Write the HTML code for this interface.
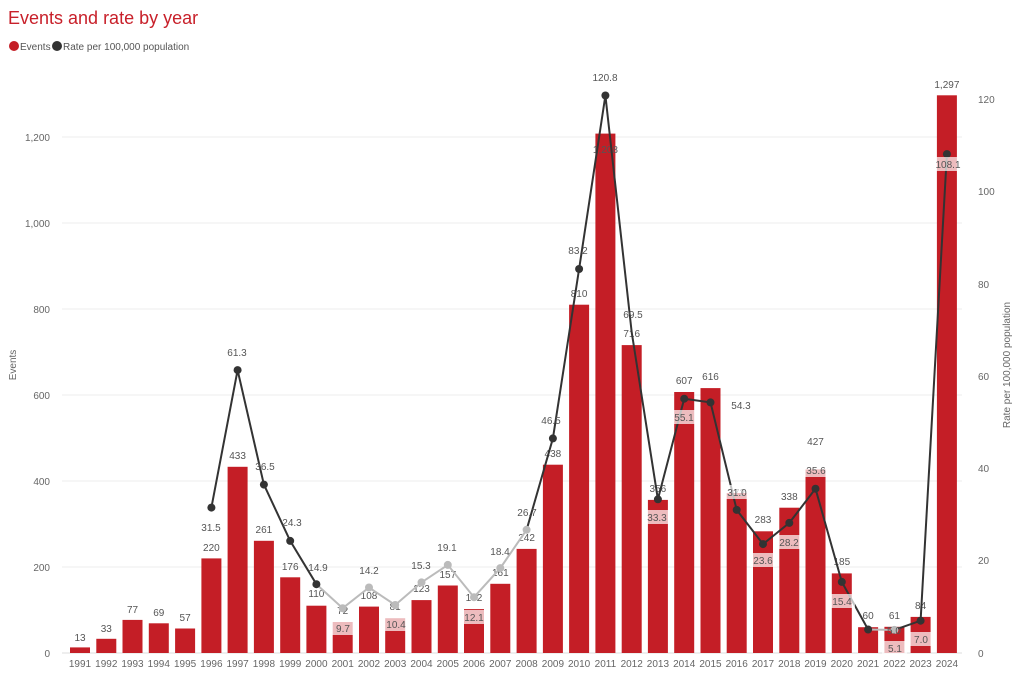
<!DOCTYPE html>
<html><head><meta charset="utf-8"><style>
body{margin:0;background:#fff;width:1024px;height:684px;overflow:hidden}
svg{font-family:"Liberation Sans",sans-serif}
.t{font-size:10px;fill:#666}
.e{font-size:10px;fill:#555;text-anchor:middle}
.r{font-size:10px;fill:#555;text-anchor:middle}
.g{stroke:#ececec;stroke-width:1}
</style></head><body>
<svg width="1024" height="684" viewBox="0 0 1024 684">
<text x="8" y="24" font-size="18" fill="#c8202a">Events and rate by year</text>
<circle cx="14" cy="46" r="5" fill="#c41e26"/><text x="20" y="50" font-size="10" fill="#555">Events</text>
<circle cx="57" cy="46" r="5" fill="#333"/><text x="63" y="50" font-size="10" fill="#555">Rate per 100,000 population</text>
<g class="g">
<line x1="62" x2="962" y1="567" y2="567"/><line x1="62" x2="962" y1="481" y2="481"/><line x1="62" x2="962" y1="395" y2="395"/><line x1="62" x2="962" y1="309" y2="309"/><line x1="62" x2="962" y1="223" y2="223"/><line x1="62" x2="962" y1="137" y2="137"/>
<line x1="62" x2="962" y1="653" y2="653" stroke="#ddd"/>
</g>
<g class="t" text-anchor="end">
<text x="50" y="657">0</text><text x="50" y="571">200</text><text x="50" y="485">400</text><text x="50" y="399">600</text><text x="50" y="313">800</text><text x="50" y="227">1,000</text><text x="50" y="141">1,200</text>
</g>
<g class="t">
<text x="978" y="657">0</text><text x="978" y="564">20</text><text x="978" y="472">40</text><text x="978" y="380">60</text><text x="978" y="288">80</text><text x="978" y="195">100</text><text x="978" y="103">120</text>
</g>
<text class="t" transform="translate(16,365) rotate(-90)" text-anchor="middle">Events</text>
<text class="t" transform="translate(1010,365) rotate(-90)" text-anchor="middle">Rate per 100,000 population</text>
<g fill="#c41e26">
<rect x="70" y="647.4" width="20" height="5.6"/>
<rect x="96.3" y="638.8" width="20" height="14.2"/>
<rect x="122.5" y="619.9" width="20" height="33.1"/>
<rect x="148.8" y="623.3" width="20" height="29.7"/>
<rect x="175.1" y="628.5" width="20" height="24.5"/>
<rect x="201.4" y="558.4" width="20" height="94.6"/>
<rect x="227.6" y="466.8" width="20" height="186.2"/>
<rect x="253.9" y="540.8" width="20" height="112.2"/>
<rect x="280.2" y="577.3" width="20" height="75.7"/>
<rect x="306.4" y="605.7" width="20" height="47.3"/>
<rect x="332.7" y="622" width="20" height="31"/>
<rect x="359" y="606.6" width="20" height="46.4"/>
<rect x="385.2" y="618.2" width="20" height="34.8"/>
<rect x="411.5" y="600.1" width="20" height="52.9"/>
<rect x="437.8" y="585.5" width="20" height="67.5"/>
<rect x="464" y="609.1" width="20" height="43.9"/>
<rect x="490.3" y="583.8" width="20" height="69.2"/>
<rect x="516.6" y="548.9" width="20" height="104.1"/>
<rect x="542.9" y="464.7" width="20" height="188.3"/>
<rect x="569.1" y="304.7" width="20" height="348.3"/>
<rect x="595.4" y="133.6" width="20" height="519.4"/>
<rect x="621.7" y="345.1" width="20" height="307.9"/>
<rect x="647.9" y="499.9" width="20" height="153.1"/>
<rect x="674.2" y="392" width="20" height="261"/>
<rect x="700.5" y="388.1" width="20" height="264.9"/>
<rect x="726.7" y="493" width="20" height="160"/>
<rect x="753" y="531.3" width="20" height="121.7"/>
<rect x="779.3" y="507.7" width="20" height="145.3"/>
<rect x="805.5" y="469.4" width="20" height="183.6"/>
<rect x="831.8" y="573.4" width="20" height="79.6"/>
<rect x="858.1" y="627.2" width="20" height="25.8"/>
<rect x="884.4" y="626.8" width="20" height="26.2"/>
<rect x="910.6" y="616.9" width="20" height="36.1"/>
<rect x="936.9" y="95.3" width="20" height="557.7"/>
</g>
<g class="e">
<text x="80" y="641">13</text><text x="106.3" y="632">33</text><text x="132.5" y="613">77</text><text x="158.8" y="616">69</text><text x="185.1" y="621">57</text><text x="211.4" y="551">220</text><text x="237.6" y="459">433</text><text x="263.9" y="533">261</text><text x="290.2" y="570">176</text><text x="316.4" y="597">110</text><text x="342.7" y="614">72</text><text x="369" y="599">108</text><text x="395.2" y="610">81</text><text x="421.5" y="592">123</text><text x="447.8" y="578">157</text><text x="474" y="601">102</text><text x="500.3" y="576">161</text><text x="526.6" y="541">242</text><text x="552.9" y="457">438</text><text x="579.1" y="297">810</text><text x="605.4" y="153">1,208</text><text x="631.7" y="337">716</text><text x="657.9" y="492">356</text><text x="684.2" y="384">607</text><text x="710.5" y="380">616</text><text x="736.7" y="496">372</text><text x="763" y="523">283</text><text x="789.3" y="500">338</text><text x="815.5" y="445">427</text><text x="841.8" y="565">185</text><text x="868.1" y="619">60</text><text x="894.4" y="619">61</text><text x="920.6" y="609">84</text><text x="946.9" y="88">1,297</text>
</g>
<polyline fill="none" stroke="#333" stroke-width="2" points="211.4,507.6 237.6,370.1 263.9,484.6 290.2,540.9 316.4,584.2"/>
<polyline fill="none" stroke="#bbb" stroke-width="2" points="316.4,584.2 342.7,608.2 369,587.5 395.2,605 421.5,582.4 447.8,564.9 474,597.2 500.3,568.1 526.6,529.8"/>
<polyline fill="none" stroke="#333" stroke-width="2" points="526.6,529.8 552.9,438.4 579.1,269 605.4,95.5 631.7,332.3 657.9,499.3 684.2,398.7 710.5,402.4 736.7,509.9 763,544.1 789.3,522.9 815.5,488.7 841.8,581.9 868.1,629.5"/>
<polyline fill="none" stroke="#bbb" stroke-width="2" points="868.1,629.5 894.4,629.9"/>
<polyline fill="none" stroke="#333" stroke-width="2" points="894.4,629.9 920.6,620.7 946.9,154.1"/>
<g fill="#333">
<circle cx="211.4" cy="507.6" r="4"/><circle cx="237.6" cy="370.1" r="4"/><circle cx="263.9" cy="484.6" r="4"/><circle cx="290.2" cy="540.9" r="4"/><circle cx="316.4" cy="584.2" r="4"/>
<circle cx="552.9" cy="438.4" r="4"/><circle cx="579.1" cy="269" r="4"/><circle cx="605.4" cy="95.5" r="4"/><circle cx="657.9" cy="499.3" r="4"/><circle cx="684.2" cy="398.7" r="4"/><circle cx="710.5" cy="402.4" r="4"/><circle cx="736.7" cy="509.9" r="4"/><circle cx="763" cy="544.1" r="4"/><circle cx="789.3" cy="522.9" r="4"/><circle cx="815.5" cy="488.7" r="4"/><circle cx="841.8" cy="581.9" r="4"/><circle cx="868.1" cy="629.5" r="4"/><circle cx="920.6" cy="620.7" r="4"/><circle cx="946.9" cy="154.1" r="4"/>
</g>
<g fill="#bbb">
<circle cx="342.7" cy="608.2" r="4"/><circle cx="369" cy="587.5" r="4"/><circle cx="395.2" cy="605" r="4"/><circle cx="421.5" cy="582.4" r="4"/><circle cx="447.8" cy="564.9" r="4"/><circle cx="474" cy="597.2" r="4"/><circle cx="500.3" cy="568.1" r="4"/><circle cx="526.6" cy="529.8" r="4"/><circle cx="894.4" cy="629.9" r="4"/>
</g>
<g fill="#fff" fill-opacity="0.7">
<rect x="331" y="621" width="24" height="14"/><rect x="383" y="617" width="26" height="14"/><rect x="461" y="610" width="26" height="14"/><rect x="644" y="510" width="28" height="14"/><rect x="671" y="410" width="27" height="14"/><rect x="723" y="485" width="27" height="14"/><rect x="750" y="553" width="27" height="14"/><rect x="776" y="535" width="27" height="14"/><rect x="828" y="594" width="27" height="14"/><rect x="882" y="641" width="25" height="13"/><rect x="908" y="632" width="25" height="14"/><rect x="934" y="157" width="27" height="14"/><rect x="803" y="463" width="26" height="14"/>
</g>
<g class="r">
<text x="211" y="531">31.5</text><text x="237" y="356">61.3</text><text x="265" y="470">36.5</text><text x="292" y="526">24.3</text><text x="318" y="571">14.9</text><text x="343" y="632">9.7</text><text x="369" y="574">14.2</text><text x="396" y="628">10.4</text><text x="421" y="569">15.3</text><text x="447" y="551">19.1</text><text x="474" y="621">12.1</text><text x="500" y="555">18.4</text><text x="527" y="516">26.7</text><text x="551" y="424">46.5</text><text x="578" y="254">83.2</text><text x="605" y="81">120.8</text><text x="633" y="318">69.5</text><text x="657" y="521">33.3</text><text x="684" y="421">55.1</text><text x="741" y="409">54.3</text><text x="737" y="496">31.0</text><text x="763" y="564">23.6</text><text x="789" y="546">28.2</text><text x="816" y="474">35.6</text><text x="842" y="605">15.4</text><text x="895" y="652">5.1</text><text x="894" y="634">5.0</text><text x="921" y="643">7.0</text><text x="948" y="168">108.1</text>
</g>
<g class="t" text-anchor="middle">
<text x="80" y="667">1991</text><text x="106.3" y="667">1992</text><text x="132.5" y="667">1993</text><text x="158.8" y="667">1994</text><text x="185.1" y="667">1995</text><text x="211.4" y="667">1996</text><text x="237.6" y="667">1997</text><text x="263.9" y="667">1998</text><text x="290.2" y="667">1999</text><text x="316.4" y="667">2000</text><text x="342.7" y="667">2001</text><text x="369" y="667">2002</text><text x="395.2" y="667">2003</text><text x="421.5" y="667">2004</text><text x="447.8" y="667">2005</text><text x="474" y="667">2006</text><text x="500.3" y="667">2007</text><text x="526.6" y="667">2008</text><text x="552.9" y="667">2009</text><text x="579.1" y="667">2010</text><text x="605.4" y="667">2011</text><text x="631.7" y="667">2012</text><text x="657.9" y="667">2013</text><text x="684.2" y="667">2014</text><text x="710.5" y="667">2015</text><text x="736.7" y="667">2016</text><text x="763" y="667">2017</text><text x="789.3" y="667">2018</text><text x="815.5" y="667">2019</text><text x="841.8" y="667">2020</text><text x="868.1" y="667">2021</text><text x="894.4" y="667">2022</text><text x="920.6" y="667">2023</text><text x="946.9" y="667">2024</text>
</g>
</svg>
</body></html>
